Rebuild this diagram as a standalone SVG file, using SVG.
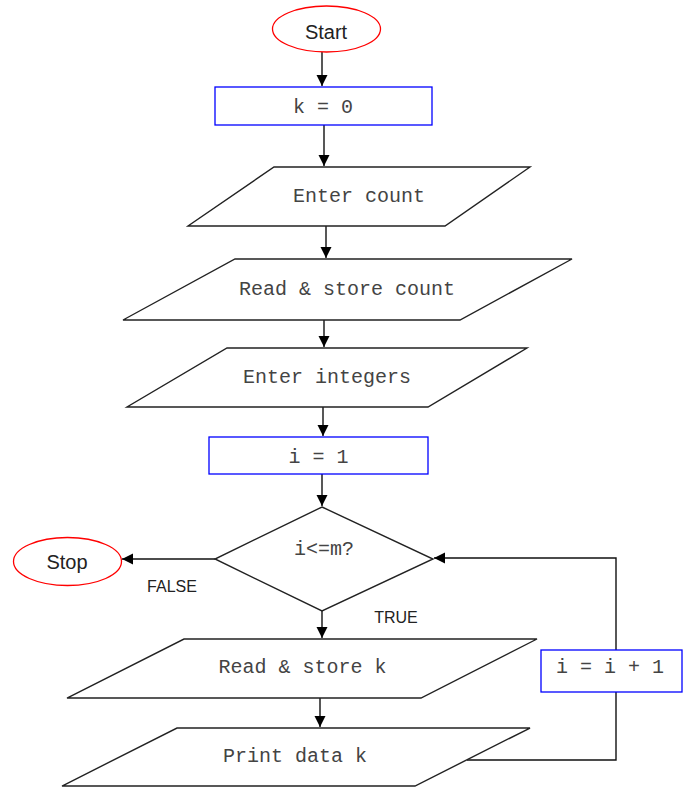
<svg xmlns="http://www.w3.org/2000/svg" width="688" height="787" viewBox="0 0 688 787">
<style>
.bg{fill:#fff}
.term{fill:#fff;stroke:#f00;stroke-width:1.3}
.proc{fill:#fff;stroke:#00f;stroke-width:1.3}
.io{fill:#fff;stroke:#222;stroke-width:1.4;stroke-linejoin:miter}
.mono{font-family:"Liberation Mono","Courier New",monospace;font-size:20px;fill:#444;text-anchor:middle}
.sans{font-family:"Liberation Sans",Arial,sans-serif;fill:#222;text-anchor:middle}
.conn{fill:none;stroke:#111;stroke-width:1.4}
</style>
<defs>
<marker id="arr" markerUnits="userSpaceOnUse" markerWidth="12" markerHeight="12" refX="11" refY="5.5" orient="auto">
<path d="M0,0 L11,5.5 L0,11 Z" fill="#000"/>
</marker>
</defs>
<rect class="bg" x="0" y="0" width="688" height="787"/>
<g id="connectors">
<line class="conn" x1="322" y1="52" x2="322" y2="86" marker-end="url(#arr)"/>
<line class="conn" x1="324" y1="125" x2="324" y2="166" marker-end="url(#arr)"/>
<line class="conn" x1="326" y1="226" x2="326" y2="258" marker-end="url(#arr)"/>
<line class="conn" x1="324" y1="320" x2="324" y2="347" marker-end="url(#arr)"/>
<line class="conn" x1="323" y1="407" x2="323" y2="436" marker-end="url(#arr)"/>
<line class="conn" x1="322" y1="474" x2="322" y2="506" marker-end="url(#arr)"/>
<line class="conn" x1="215" y1="559" x2="122" y2="559" marker-end="url(#arr)"/>
<line class="conn" x1="322" y1="611" x2="322" y2="638" marker-end="url(#arr)"/>
<line class="conn" x1="320" y1="698" x2="320" y2="727" marker-end="url(#arr)"/>
<polyline class="conn" points="467,760 616,760 616,558 434,558" marker-end="url(#arr)"/>
</g>
<g id="start">
<ellipse class="term" cx="326.5" cy="29" rx="54" ry="23"/>
<text class="sans" x="326" y="39" font-size="20">Start</text>
</g>
<g id="k0">
<rect class="proc" x="215" y="87" width="217" height="38"/>
<text class="mono" x="323" y="113">k = 0</text>
</g>
<g id="enter-count">
<polygon class="io" points="274,167 530,167 445,226 188,226"/>
<text class="mono" x="359" y="202">Enter count</text>
</g>
<g id="read-count">
<polygon class="io" points="235,259 572,259 460,320 123,320"/>
<text class="mono" x="347" y="295">Read &amp; store count</text>
</g>
<g id="enter-integers">
<polygon class="io" points="227,348 527,348 428,407 127,407"/>
<text class="mono" x="327" y="383">Enter integers</text>
</g>
<g id="i1">
<rect class="proc" x="209" y="437" width="219" height="37"/>
<text class="mono" x="318.5" y="463">i = 1</text>
</g>
<g id="decision">
<polygon class="io" points="322,507 433,559 322,611 215,559"/>
<text class="mono" x="324" y="555">i&lt;=m?</text>
</g>
<g id="stop">
<ellipse class="term" cx="67.5" cy="561.5" rx="54" ry="24"/>
<text class="sans" x="67" y="569" font-size="20">Stop</text>
</g>
<g id="labels">
<text class="sans" x="172" y="592" font-size="16">FALSE</text>
<text class="sans" x="396" y="623" font-size="16">TRUE</text>
</g>
<g id="read-k">
<polygon class="io" points="184,639 537,639 421,698 67,698"/>
<text class="mono" x="302.5" y="673">Read &amp; store k</text>
</g>
<g id="print-k">
<polygon class="io" points="177,728 530,728 415,786 62,786"/>
<text class="mono" x="295" y="762">Print data k</text>
</g>
<g id="incr">
<rect class="proc" x="541" y="650" width="141" height="42"/>
<text class="mono" x="610" y="673">i = i + 1</text>
</g>
</svg>
